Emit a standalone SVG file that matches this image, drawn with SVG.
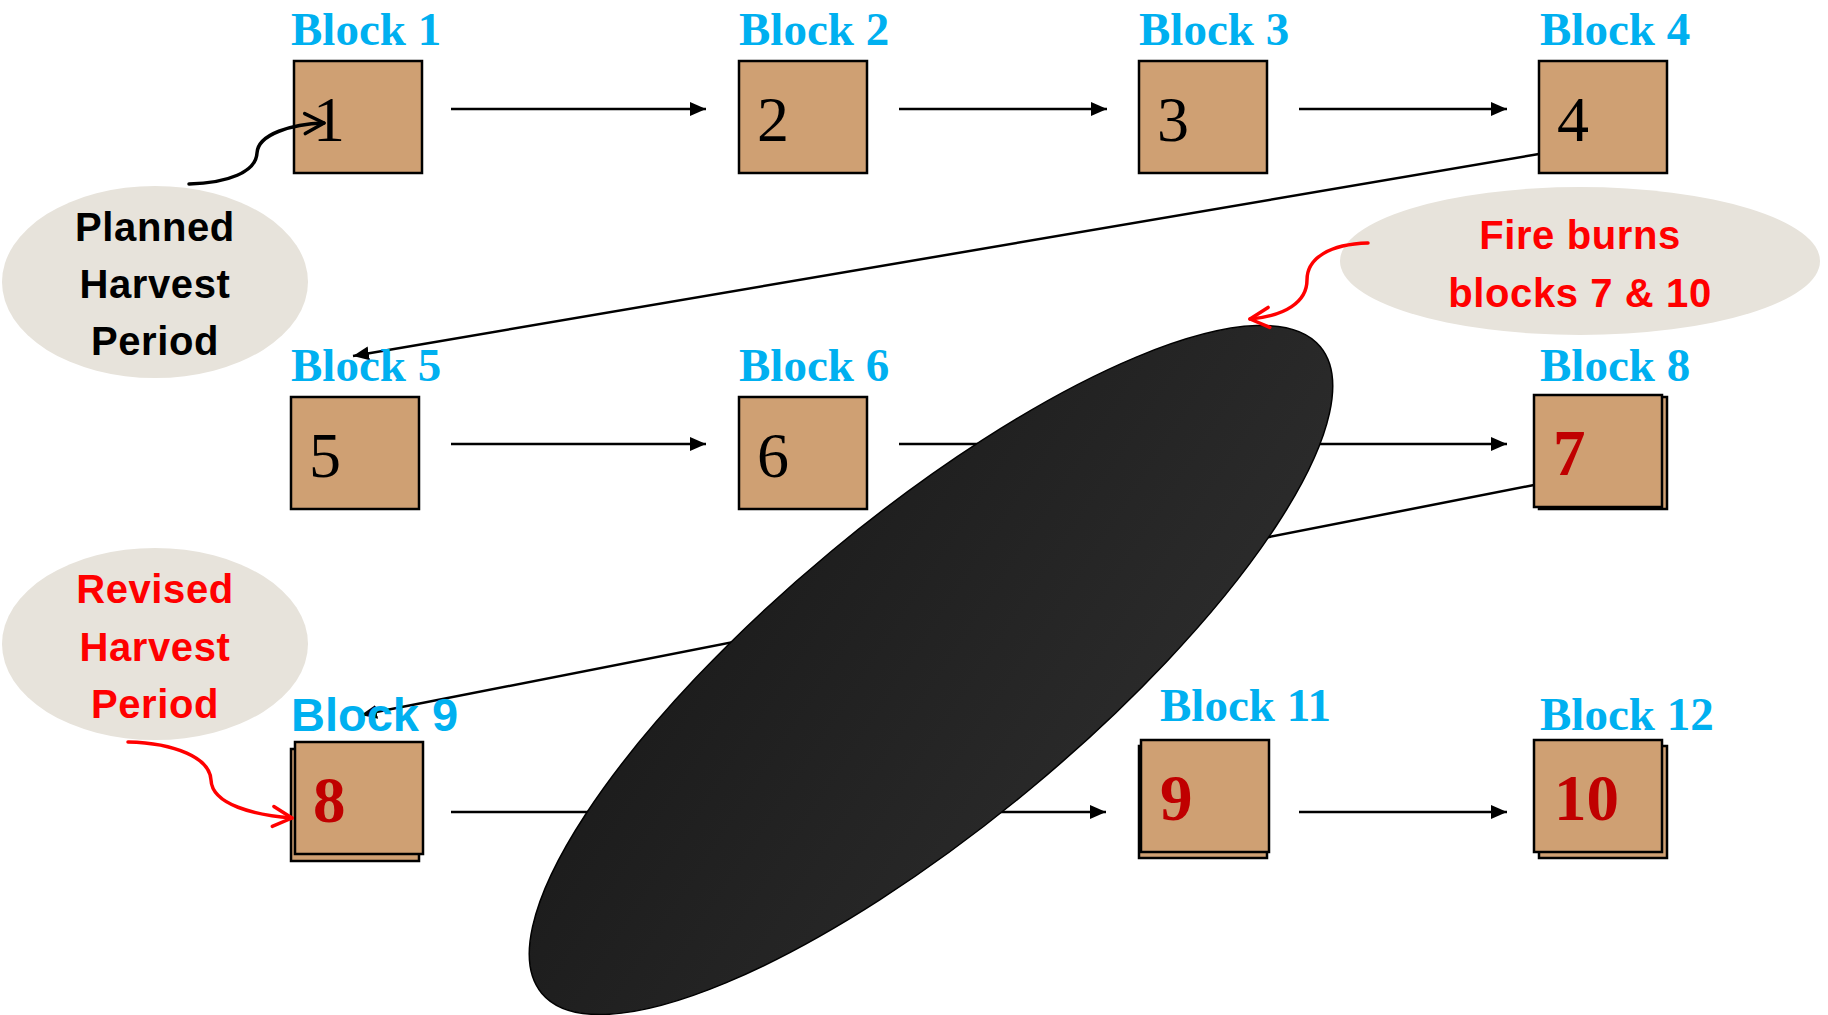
<svg xmlns="http://www.w3.org/2000/svg" width="1828" height="1015" viewBox="0 0 1828 1015">
  <style>
    .box { fill: #CFA073; stroke: #000; stroke-width: 2.5; }
    .lbl { font-family: "Liberation Serif", "Times New Roman", serif; font-weight: bold; font-size: 47px; fill: #00B0F0; }
    .lbl-sans { font-family: "Liberation Sans", Arial, sans-serif; font-weight: bold; font-size: 47px; fill: #00B0F0; }
    .num { font-family: "Liberation Serif", "Times New Roman", serif; font-size: 64px; fill: #000; }
    .num-red { font-family: "Liberation Serif", "Times New Roman", serif; font-weight: bold; font-size: 65px; fill: #C00000; }
    .callout { fill: #E7E3DB; }
    .ctext { font-family: "Liberation Sans", Arial, sans-serif; font-weight: bold; font-size: 40px; letter-spacing: 0.6px; text-anchor: middle; }
    .link { fill: none; stroke: #000; stroke-width: 2.5; marker-end: url(#arrow); }
    .curve-black { fill: none; stroke: #000; stroke-width: 3.5; stroke-linecap: round; marker-end: url(#open-black); }
    .curve-red { fill: none; stroke: #FF0000; stroke-width: 3.5; stroke-linecap: round; marker-end: url(#open-red); }
  </style>
  <defs>
    <marker id="arrow" viewBox="0 0 16 14" refX="16" refY="7" markerWidth="16" markerHeight="14" markerUnits="userSpaceOnUse" orient="auto">
      <path d="M0,0 L16,7 L0,14 z" fill="#000"/>
    </marker>
    <marker id="open-black" viewBox="0 0 26 26" refX="22" refY="13" markerWidth="26" markerHeight="26" markerUnits="userSpaceOnUse" orient="auto">
      <path d="M3,3 L22,13 L3,23" fill="none" stroke="#000" stroke-width="3.5" stroke-linecap="round" stroke-linejoin="round"/>
    </marker>
    <marker id="open-red" viewBox="0 0 26 26" refX="22" refY="13" markerWidth="26" markerHeight="26" markerUnits="userSpaceOnUse" orient="auto">
      <path d="M3,3 L22,13 L3,23" fill="none" stroke="#FF0000" stroke-width="3.5" stroke-linecap="round" stroke-linejoin="round"/>
    </marker>
    <linearGradient id="smoke" x1="0" y1="0" x2="1" y2="1">
      <stop offset="0" stop-color="#1a1a1a"/>
      <stop offset="1" stop-color="#2d2d2d"/>
    </linearGradient>
    <clipPath id="rim">
      <rect x="1300" y="330" width="50" height="90"/>
    </clipPath>
  </defs>

  <rect width="1828" height="1015" fill="#fff"/>

  <!-- connectors between blocks -->
  <g id="connectors">
    <line class="link" x1="451" y1="109" x2="706" y2="109"/>
    <line class="link" x1="899" y1="109" x2="1107" y2="109"/>
    <line class="link" x1="1299" y1="109" x2="1507" y2="109"/>
    <line class="link" x1="1539" y1="154" x2="353" y2="356"/>
    <line class="link" x1="451" y1="444" x2="706" y2="444"/>
    <line class="link" x1="899" y1="444" x2="1507" y2="444"/>
    <line class="link" x1="1534" y1="485" x2="361" y2="715"/>
    <line class="link" x1="451" y1="812" x2="1106" y2="812"/>
    <line class="link" x1="1299" y1="812" x2="1507" y2="812"/>
  </g>

  <!-- row 1 -->
  <g id="block1">
    <text class="lbl" x="291" y="45">Block 1</text>
    <rect class="box" x="294" y="61" width="128" height="112"/>
    <text class="num" x="313" y="141">1</text>
  </g>
  <g id="block2">
    <text class="lbl" x="739" y="45">Block 2</text>
    <rect class="box" x="739" y="61" width="128" height="112"/>
    <text class="num" x="757" y="141">2</text>
  </g>
  <g id="block3">
    <text class="lbl" x="1139" y="45">Block 3</text>
    <rect class="box" x="1139" y="61" width="128" height="112"/>
    <text class="num" x="1157" y="141">3</text>
  </g>
  <g id="block4">
    <text class="lbl" x="1540" y="45">Block 4</text>
    <rect class="box" x="1539" y="61" width="128" height="112"/>
    <text class="num" x="1557" y="141">4</text>
  </g>

  <!-- row 2 -->
  <g id="block5">
    <text class="lbl" x="291" y="381">Block 5</text>
    <rect class="box" x="291" y="397" width="128" height="112"/>
    <text class="num" x="309" y="477">5</text>
  </g>
  <g id="block6">
    <text class="lbl" x="739" y="381">Block 6</text>
    <rect class="box" x="739" y="397" width="128" height="112"/>
    <text class="num" x="757" y="477">6</text>
  </g>
  <g id="block8">
    <text class="lbl" x="1540" y="381">Block 8</text>
    <rect class="box" x="1539" y="397" width="128" height="112"/>
    <rect class="box" x="1534" y="395" width="128" height="112"/>
    <text class="num-red" x="1553" y="475">7</text>
  </g>

  <!-- row 3 -->
  <g id="block9">
    <text class="lbl-sans" x="291" y="731">Block 9</text>
    <rect class="box" x="291" y="749" width="128" height="112"/>
    <rect class="box" x="295" y="742" width="128" height="112"/>
    <text class="num-red" x="313" y="822">8</text>
  </g>
  <g id="block11">
    <text class="lbl" x="1160" y="721">Block 11</text>
    <rect class="box" x="1139" y="746" width="128" height="112"/>
    <rect class="box" x="1141" y="740" width="128" height="112"/>
    <text class="num-red" x="1160" y="820">9</text>
  </g>
  <g id="block12">
    <text class="lbl" x="1540" y="730">Block 12</text>
    <rect class="box" x="1539" y="746" width="128" height="112"/>
    <rect class="box" x="1534" y="740" width="128" height="112"/>
    <text class="num-red" x="1554" y="820">10</text>
  </g>

  <!-- burned area -->
  <g id="fire">
    <ellipse cx="934" cy="670" rx="506" ry="155" transform="rotate(-39.7 934 670)" fill="none" stroke="#E8300A" stroke-width="3" clip-path="url(#rim)"/>
    <ellipse cx="931" cy="670" rx="506" ry="155" transform="rotate(-39.7 931 670)" fill="url(#smoke)" stroke="#000" stroke-width="1.5"/>
  </g>

  <!-- callouts -->
  <g id="planned">
    <ellipse class="callout" cx="155" cy="282" rx="153" ry="96"/>
    <text class="ctext" x="155" y="241" fill="#000">Planned</text>
    <text class="ctext" x="155" y="298" fill="#000">Harvest</text>
    <text class="ctext" x="155" y="355" fill="#000">Period</text>
    <path class="curve-black" d="M189,184 C228,183 256,172 257,153 C258,134 292,124 324,123"/>
  </g>
  <g id="fire-note">
    <ellipse class="callout" cx="1580" cy="261" rx="240" ry="74"/>
    <text class="ctext" x="1580" y="249" fill="#FF0000">Fire burns</text>
    <text class="ctext" x="1580" y="307" fill="#FF0000">blocks 7 &amp; 10</text>
    <path class="curve-red" d="M1368,243 C1330,244 1307,258 1307,280 C1307,302 1285,316 1250,319"/>
  </g>
  <g id="revised">
    <ellipse class="callout" cx="155" cy="644" rx="153" ry="96"/>
    <text class="ctext" x="155" y="603" fill="#FF0000">Revised</text>
    <text class="ctext" x="155" y="661" fill="#FF0000">Harvest</text>
    <text class="ctext" x="155" y="718" fill="#FF0000">Period</text>
    <path class="curve-red" d="M128,742 C175,743 210,758 211,780 C212,805 255,815 292,818"/>
  </g>
</svg>
